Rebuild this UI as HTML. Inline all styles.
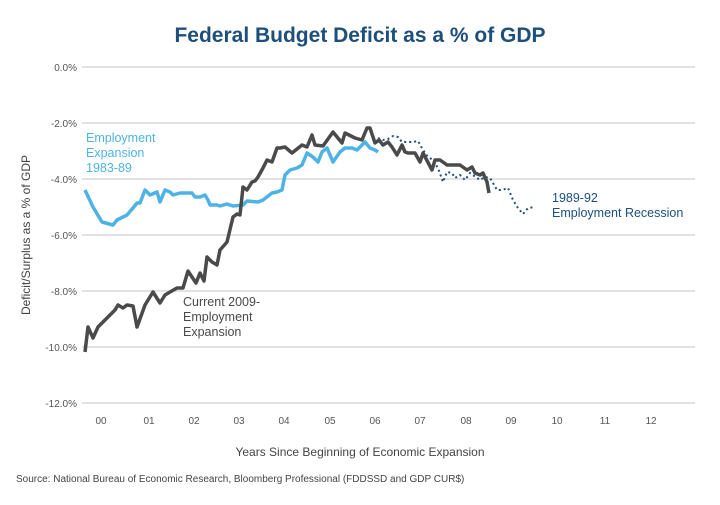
<!DOCTYPE html>
<html><head><meta charset="utf-8"><style>
body{margin:0;background:#fff;}
svg text{font-family:"Liberation Sans",sans-serif;}
</style></head><body>
<svg width="720" height="500" viewBox="0 0 720 500" xmlns="http://www.w3.org/2000/svg">
<text x="360" y="42" text-anchor="middle" font-size="21" font-weight="bold" fill="#1d4f7c">Federal Budget Deficit as a % of GDP</text>
<g stroke="#d0d0d0" stroke-width="1.3">
<line x1="82" y1="67" x2="695" y2="67"/><line x1="82" y1="123" x2="695" y2="123"/>
<line x1="82" y1="179" x2="695" y2="179"/><line x1="82" y1="235" x2="695" y2="235"/>
<line x1="82" y1="291" x2="695" y2="291"/><line x1="82" y1="347" x2="695" y2="347"/>
<line x1="82" y1="403" x2="695" y2="403"/></g>
<g font-size="10" fill="#555" text-anchor="end">
<text x="77" y="71">0.0%</text><text x="77" y="127">-2.0%</text><text x="77" y="183">-4.0%</text>
<text x="77" y="239">-6.0%</text><text x="77" y="295">-8.0%</text><text x="77" y="351">-10.0%</text><text x="77" y="407">-12.0%</text></g>
<g font-size="10" fill="#555" text-anchor="middle">
<text x="101" y="424">00</text><text x="149" y="424">01</text><text x="194" y="424">02</text><text x="239" y="424">03</text>
<text x="284" y="424">04</text><text x="330" y="424">05</text><text x="375" y="424">06</text><text x="420" y="424">07</text>
<text x="466" y="424">08</text><text x="511" y="424">09</text><text x="557" y="424">10</text><text x="605" y="424">11</text><text x="651" y="424">12</text></g>
<text x="360" y="456" text-anchor="middle" font-size="12" fill="#444">Years Since Beginning of Economic Expansion</text>
<text transform="translate(30,235) rotate(-90)" text-anchor="middle" font-size="12" fill="#444">Deficit/Surplus as a % of GDP</text>
<text x="16" y="482" font-size="10" fill="#444">Source: National Bureau of Economic Research, Bloomberg Professional (FDDSSD and GDP CUR$)</text>
<polyline fill="none" stroke="#1d4f7c" stroke-width="2" stroke-dasharray="2,3" points="378,138 383,140 388,139 393,136 398,137 402,142 408,142 413,142 418,141 423,150 428,157 433,160 438,168 443,182 447,172 452,173 455,178 460,175 465,180 470,173 477,178 480,180 485,177 490,178 493,183 497,190 502,190 508,188 513,200 518,208 523,214 528,208 535,207"/>
<polyline fill="none" stroke="#4db3e6" stroke-width="3.5" stroke-linejoin="round" points="85,190 93,207 102,222 113,225 117,220 127,215 133,208 137,203 140,203 145,190 150,195 157,192 160,202 165,190 170,192 173,195 180,193 192,193 195,197 200,197 205,195 208,200 210,205 217,205 220,206 227,204 233,206 243,205 247,201 258,202 263,200 272,193 277,192 282,190 285,175 290,170 297,168 302,165 307,153 313,157 318,162 322,152 327,148 333,162 340,152 345,148 352,148 357,150 360,147 365,142 370,148 375,150 378,152"/>
<polyline fill="none" stroke="#4a4a4c" stroke-width="3.5" stroke-linejoin="round" points="85,352 88,327 93,338 98,327 107,318 115,310 118,305 123,308 127,305 133,306 137,327 145,305 153,292 160,303 165,295 170,292 177,288 183,288 188,271 196,283 200,273 204,281 207,257 212,262 217,265 220,250 227,242 233,217 237,214 240,215 243,187 247,190 252,182 255,181 258,177 263,168 267,160 272,162 277,148 280,148 285,147 292,153 302,145 307,147 312,135 315,145 323,146 333,132 342,143 345,133 355,138 362,140 367,128 370,128 375,143 379,140 383,145 388,142 392,147 397,155 402,145 405,152 408,153 415,153 420,162 423,153 432,170 435,160 440,160 447,165 453,165 460,165 467,170 472,167 475,173 480,175 483,173 487,182 489,193"/>
<g font-size="12.5" fill="#4db3e6"><text x="86" y="142">Employment</text><text x="86" y="157">Expansion</text><text x="86" y="172">1983-89</text></g>
<g font-size="12.5" fill="#4a4a4c"><text x="183" y="306">Current 2009-</text><text x="183" y="321">Employment</text><text x="183" y="336">Expansion</text></g>
<g font-size="12.5" fill="#1d4f7c"><text x="552" y="202">1989-92</text><text x="552" y="217">Employment Recession</text></g>
</svg>
</body></html>
